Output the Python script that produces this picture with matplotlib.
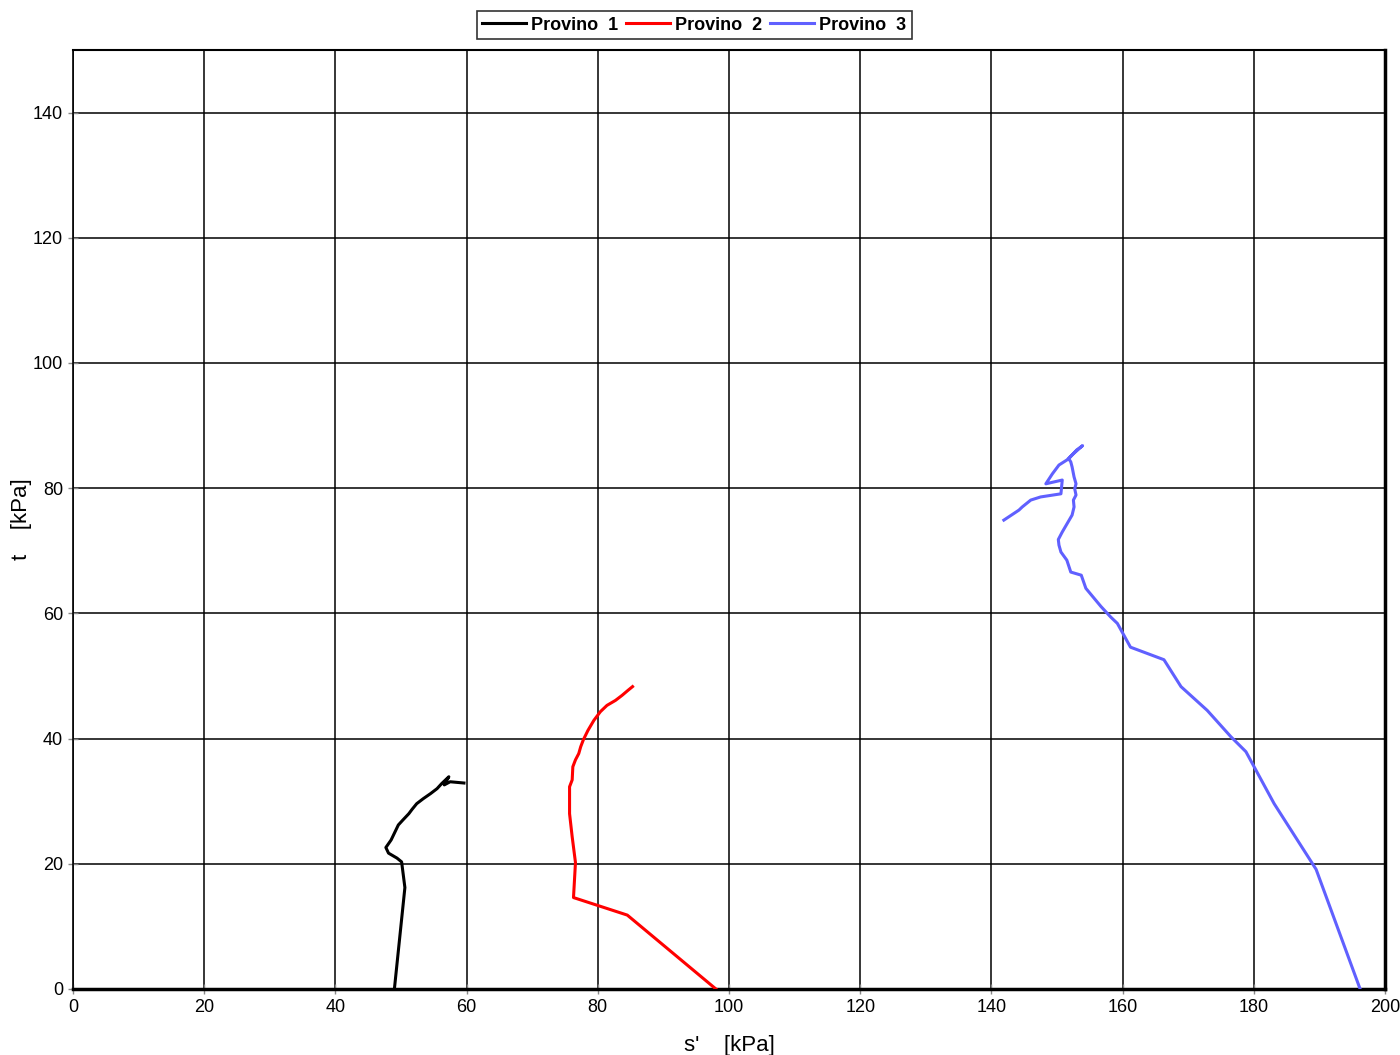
import numpy as np
import matplotlib.pyplot as plt

plt.rcParams['font.family'] = ['Liberation Sans', 'DejaVu Sans']

# Provino 1 (s', t) in kPa
s1 = [49.0, 50.6, 50.1, 49.4, 48.1, 47.7, 48.5, 49.6, 50.3, 51.2, 51.7, 52.4, 53.4,
      54.5, 55.5, 56.2, 57.3, 56.6, 57.5, 59.6]
t1 = [0.0, 16.2, 20.3, 20.9, 21.7, 22.6, 23.8, 26.2, 27.0, 28.0, 28.7, 29.6, 30.4,
      31.2, 32.0, 32.8, 33.9, 32.6, 33.1, 32.9]

# Provino 2
s2 = [98.0, 84.5, 76.3, 76.6, 76.1, 75.7, 75.7, 76.1, 76.2, 76.6, 77.1, 77.4, 77.8,
      78.5, 79.4, 80.4, 81.4, 82.7, 83.7, 84.6, 85.3]
t2 = [0.0, 11.8, 14.6, 20.2, 24.3, 28.0, 32.3, 33.4, 35.5, 36.6, 37.6, 38.7, 39.8,
      41.3, 42.9, 44.3, 45.3, 46.1, 46.9, 47.7, 48.3]

# Provino 3
s3 = [196.2, 189.5, 183.1, 178.8, 176.5, 172.9, 168.9, 166.3, 161.2, 159.2, 158.2,
      156.7, 154.4, 153.7, 152.1, 151.5, 150.6, 150.3, 150.2, 150.8, 152.3, 152.6,
      152.5, 152.9, 152.7, 152.9, 152.6, 152.3, 152.1, 151.8, 152.3, 153.0, 153.9,
      152.5, 151.5, 150.3, 149.3, 148.3, 150.8, 150.6, 147.5, 146.0, 144.7, 144.2,
      141.9]
t3 = [0.0, 19.1, 29.6, 37.9, 40.3, 44.5, 48.3, 52.6, 54.6, 58.4, 59.4,
      61.1, 64.0, 66.1, 66.6, 68.5, 69.8, 70.9, 71.8, 73.0, 75.7, 77.0,
      78.1, 78.9, 79.9, 80.7, 81.8, 83.4, 84.2, 84.7, 85.3, 86.1, 86.8,
      85.5, 84.5, 83.7, 82.3, 80.7, 81.3, 79.1, 78.6, 78.1, 77.0, 76.5,
      74.9]

fig = plt.figure(figsize=(14, 10.55), dpi=100)
ax = fig.add_axes([0.0521, 0.0626, 0.9372, 0.89])

ax.plot(s1, t1, color='black', linewidth=2.2, label='Provino  1', zorder=3)
ax.plot(s2, t2, color='#ff0000', linewidth=2.2, label='Provino  2', zorder=3)
ax.plot(s3, t3, color='#6060ff', linewidth=2.2, label='Provino  3', zorder=3)

ax.set_xlim(0, 200)
ax.set_ylim(0, 150)
ax.set_xticks(np.arange(0, 201, 20))
ax.set_yticks(np.arange(0, 141, 20))
ax.grid(True, color='black', linewidth=1.1)
ax.tick_params(direction='inout', length=7, width=1, color='#888888', labelsize=13)

ax.spines['left'].set_linewidth(1.2)
ax.spines['top'].set_linewidth(1.5)
ax.spines['right'].set_linewidth(2.5)
ax.spines['bottom'].set_linewidth(2.5)

ax.set_xlabel("s'    [kPa]", fontsize=16, labelpad=14)
ax.set_ylabel("t    [kPa]", fontsize=16, labelpad=1)

leg = fig.legend(loc='upper center', bbox_to_anchor=(0.496, 0.998), ncol=3,
                 prop={'weight': 'bold', 'size': 13}, frameon=True, fancybox=False,
                 edgecolor='black', handlelength=2.4, handletextpad=0.3,
                 columnspacing=0.45, borderpad=0.3)
leg.get_frame().set_linewidth(1.2)

plt.savefig('out.png', dpi=100, facecolor='white')
